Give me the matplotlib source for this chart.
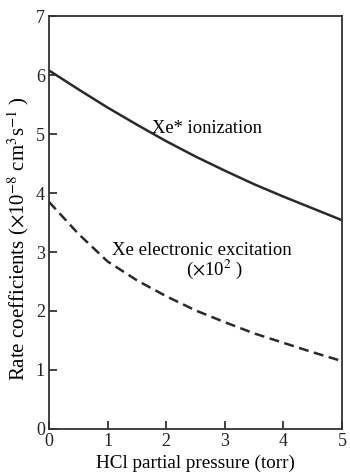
import numpy as np
import matplotlib.pyplot as plt

# HCl partial pressure (torr) and rate coefficients (x1e-8 cm^3 s^-1)
pressure = [0.0, 0.5, 1.0, 1.5, 2.0, 2.5, 3.0, 3.5, 4.0, 4.5, 5.0]
ionization = [6.08, 5.76, 5.45, 5.16, 4.88, 4.62, 4.38, 4.15, 3.94, 3.74, 3.54]
excitation = [3.85, 3.31, 2.84, 2.52, 2.25, 2.01, 1.81, 1.62, 1.46, 1.30, 1.15]

plt.rcParams['font.family'] = ['Liberation Serif', 'DejaVu Serif']
plt.rcParams['mathtext.fontset'] = 'stix'

fig = plt.figure(figsize=(3.5, 4.76), dpi=100)
ax = fig.add_axes([0.14, 0.099, 0.837, 0.867])

ax.plot(pressure, ionization, color='#2a2a2a', linewidth=1.8)
ax.plot(pressure, excitation, color='#2a2a2a', linewidth=1.8,
        linestyle=(0, (4, 2.2)))

ax.set_xlim(0, 5)
ax.set_ylim(0, 7)
ax.set_xticks(range(6))
ax.set_yticks(range(8))
ax.tick_params(direction='in', length=6, width=1.2, labelsize=13,
               colors='#222222', pad=3)
for s in ax.spines.values():
    s.set_linewidth(1.3)
    s.set_color('#333333')

ax.text(2.70, 5.10, 'Xe* ionization', fontsize=13.3, ha='center', va='center')
ax.text(2.61, 3.03, 'Xe electronic excitation', fontsize=13.5,
        ha='center', va='center')
ax.text(2.83, 2.70, r'($\times$10$^2$ )', fontsize=13.5, ha='center',
        va='center')

ax.set_xlabel('HCl partial pressure (torr)', fontsize=13.8, labelpad=3)
ax.set_ylabel(r'Rate coefficients ($\times$10$^{-8}$ cm$^3$s$^{-1}$ )',
              fontsize=15)
ax.yaxis.set_label_coords(-0.06, 0.46)

fig.savefig('out.png', dpi=100)
